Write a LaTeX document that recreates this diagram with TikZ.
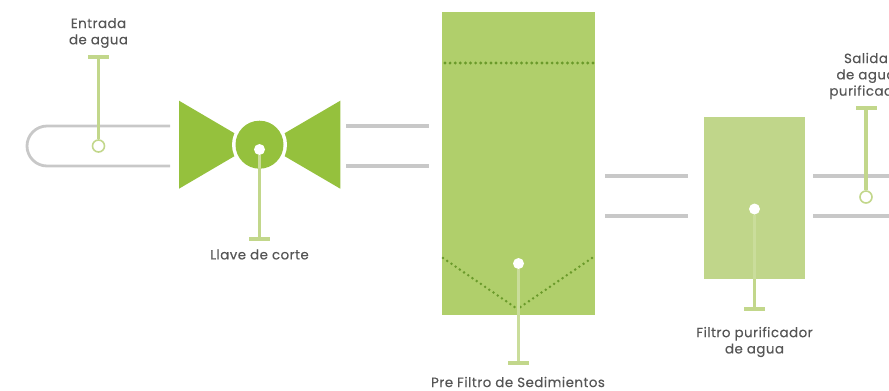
\documentclass[tikz,border=0pt]{standalone}
\usepackage{fontspec}
\setmainfont{Poppins}[LetterSpace=3.5,FakeBold=0.25]
\definecolor{pipegray}{HTML}{C8C8C8}
\definecolor{valvegreen}{HTML}{95C13D}
\definecolor{prefilter}{HTML}{B0CF6B}
\definecolor{filtergreen}{HTML}{C0D68A}
\definecolor{leader}{HTML}{C2D78B}
\definecolor{leaderin}{HTML}{CADD9B}
\definecolor{dots}{HTML}{6A9A2A}
\definecolor{txt}{HTML}{555555}
\tikzset{
  pipe/.style={draw=pipegray,line width=2.8bp},
  pipeseg/.style={draw=pipegray,line width=3.1bp},
  leadline/.style={draw=leader,line width=3.6bp},
  leadinner/.style={draw=leaderin,line width=3.6bp},
  endbar/.style={rectangle,fill=leader,minimum width=21bp,minimum height=4bp,inner sep=0pt},
  ringmark/.style={circle,draw=leader,fill=white,line width=1.6bp,minimum size=12bp,inner sep=0pt},
  dotmark/.style={circle,fill=white,minimum size=11bp,inner sep=0pt},
  tank/.style={rectangle,inner sep=0pt,anchor=north west},
  lbl/.style={text=txt,font=\fontsize{13.4bp}{16.3bp}\selectfont,align=center,inner sep=0pt},
  dotline/.style={draw=dots,line width=2.8bp,line cap=round,dash pattern=on 0pt off 5.1bp},
  dotlineh/.style={draw=dots,line width=3.2bp,line cap=round,dash pattern=on 0pt off 5.1bp},
}
\begin{document}
\begin{tikzpicture}[x=1bp,y=-1bp]
\useasboundingbox (0,0) rectangle (889,390);
\clip (0,0) rectangle (889,390);
% pipes
\coordinate (p1a) at (170,126); \coordinate (p1b) at (170,166);
\draw[pipe] (p1a) -- (47,126) .. controls (36,126) and (27,135) .. (27,146) .. controls (27,157) and (36,166) .. (47,166) -- (p1b);
\coordinate (p2a) at (346,126); \coordinate (p2b) at (429,126);
\coordinate (p2c) at (346,166); \coordinate (p2d) at (429,166);
\draw[pipeseg] (p2a) -- (p2b); \draw[pipeseg] (p2c) -- (p2d);
\coordinate (p3a) at (605,176); \coordinate (p3b) at (688,176);
\coordinate (p3c) at (605,216); \coordinate (p3d) at (688,216);
\draw[pipeseg] (p3a) -- (p3b); \draw[pipeseg] (p3c) -- (p3d);
\coordinate (p4a) at (813,176); \coordinate (p4b) at (889,176);
\coordinate (p4c) at (813,216); \coordinate (p4d) at (889,216);
\draw[pipeseg] (p4a) -- (p4b); \draw[pipeseg] (p4c) -- (p4d);
% valve
\fill[valvegreen] (179,100.7) -- (254,144.7) -- (179,188.7) -- cycle;
\fill[valvegreen] (340.3,100.7) -- (265,144.7) -- (340.3,188.7) -- cycle;
\node[circle,fill=white,minimum size=55bp,inner sep=0pt] (valvegap) at (259.5,144.7) {};
\node[circle,fill=valvegreen,minimum size=48bp,inner sep=0pt] (valve) at (259.5,144.7) {};
% tanks
\node[tank,fill=prefilter,minimum width=153bp,minimum height=303bp] (pre) at (442,12) {};
\node[tank,fill=filtergreen,minimum width=101bp,minimum height=162bp] (fil) at (704,117) {};
% dotted lines in the pre filter
\coordinate (d1) at (445,63); \coordinate (d2) at (593,63);
\coordinate (d3) at (443,258); \coordinate (d4) at (517.5,309); \coordinate (d5) at (592,258);
\draw[dotlineh] (d1) -- (d2);
\draw[dotline] (d3) -- (d4);
\draw[dotline] (d5) -- (d4);
% end bars
\node[endbar] (b1) at (98.5,57) {};
\node[endbar] (b2) at (259.5,239) {};
\node[endbar] (b3) at (518.5,363) {};
\node[endbar] (b4) at (754.5,309) {};
\node[endbar] (b5) at (866,108) {};
% markers
\node[ringmark] (m1) at (98.5,146) {};
\node[dotmark] (m2) at (259.5,149.5) {};
\node[dotmark] (m3) at (518.5,263.5) {};
\node[dotmark] (m4) at (754.5,209) {};
\node[ringmark] (m5) at (866,197) {};
% leaders
\coordinate (j2) at (259.5,168);
\coordinate (j4) at (754.5,279);
\draw[leadline] (b1.south) -- (m1.north);
\draw[leadinner] (m2.south) -- (j2);
\draw[leadline] (j2) -- (b2.north);
\draw[leadinner] (m3.south) -- (b3.north);
\draw[leadinner] (m4.south) -- (j4);
\draw[leadline] (j4) -- (b4.north);
\draw[leadline] (b5.south) -- (m5.north);
% labels
\node[lbl] (t1) at (98.5,33) {Entrada\\de agua};
\node[lbl] (t2) at (259.5,254.5) {Llave de corte};
\node[lbl] (t3) at (518,382) {Pre Filtro de Sedimientos};
\node[lbl] (t4) at (754.5,342) {Filtro purificador\\de agua};
\node[lbl] (t5) at (866,76) {Salida\\de agua\\purificada};
\end{tikzpicture}
\end{document}
